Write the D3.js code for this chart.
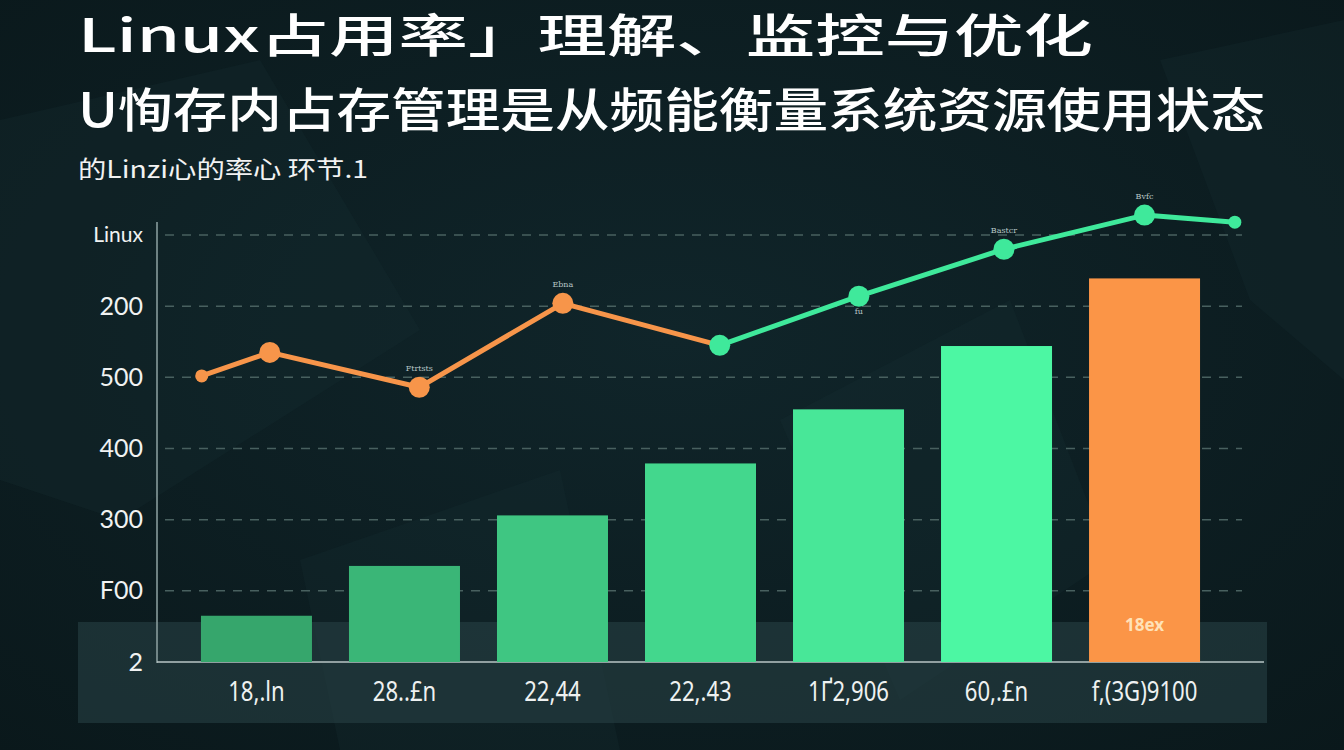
<!DOCTYPE html>
<html><head><meta charset="utf-8">
<script src="https://cdn.jsdelivr.net/npm/d3@7"></script>
<style>html,body{margin:0;padding:0;background:#0c1c1f;overflow:hidden}</style>
</head><body>
<svg id="chart" width="1344" height="750"></svg>
<script>
// ---- data ----
const categories = ["18,.ln", "28..£n", "22,44", "22,.43", "1Ґ2,906", "60,.£n", "f,(3G)9100"];
const barValues = [65, 135, 206, 279, 355, 444, 539];
const barHighlight = [false, false, false, false, false, false, true];
const barLabels = ["", "", "", "", "", "", "18ex"];
const yTickValues = [0, 100, 200, 300, 400, 500, 600];
const yTickLabels = ["2", "F00", "300", "400", "500", "200", "Linux"];
const linePos = [-0.37, 0.09, 1.1, 2.07, 3.13, 4.07, 5.05, 6.0, 6.61];
const lineValues = [402, 435, 386, 504, 445, 514, 580, 628, 618];
const lineSeries = ["o", "o", "o", "o", "g", "g", "g", "g", "g"];
const pointLabels = ["", "", "Ftrtsts", "Ebna", "", "fu", "Bastcr", "Bvfc", ""];
const titleText = "Linux占用率」理解、监控与优化";
const subtitleText = "U恂存内占存管理是从频能衡量系统资源使用状态";
const noteText = "的Linzi心的率心   环节.1";

// ---- drawing ----
const svg = d3.select("#chart");
const W = 1344, H = 750;
const defs = svg.append("defs");
const bg = defs.append("radialGradient").attr("id","bg").attr("cx","50%").attr("cy","45%").attr("r","75%");
bg.append("stop").attr("offset","0%").attr("stop-color","#10252a");
bg.append("stop").attr("offset","100%").attr("stop-color","#0a181b");
svg.append("rect").attr("width",W).attr("height",H).attr("fill","url(#bg)");
// faint background shapes
const shapes = [
  [[0,120],[260,60],[420,330],[120,520],[0,480]],
  [[780,420],[1010,300],[1110,560],[900,700]],
  [[1160,60],[1344,20],[1344,380],[1250,300]],
  [[300,560],[560,470],[620,750],[340,750]]
];
svg.selectAll("polygon.bgs").data(shapes).join("polygon").attr("class","bgs")
  .attr("points", d => d.map(p => p.join(",")).join(" "))
  .attr("fill","#173033").attr("opacity",0.25);

const x0 = 157, x1 = 1244, yTop = 235, yBase = 662;
const x = d3.scaleBand().domain(categories).range([x0, x1]).paddingInner(0.25).paddingOuter(0.297);
const y = d3.scaleLinear().domain([0, 600]).range([yBase, yTop]);
const xc = d3.scaleLinear().domain([0, 6])
  .range([x(categories[0]) + x.bandwidth()/2, x(categories[6]) + x.bandwidth()/2]);

// label strip
svg.append("rect").attr("x",78).attr("y",622).attr("width",1189).attr("height",101)
  .attr("fill","#2a4447").attr("opacity",0.55);

// gridlines
svg.append("g").selectAll("line").data(yTickValues.slice(1)).join("line")
  .attr("x1", x0 + 8).attr("x2", 1242)
  .attr("y1", d => y(d)).attr("y2", d => y(d))
  .attr("stroke","#48605f").attr("stroke-width",1.5).attr("stroke-dasharray","9,8");

// y axis
const yAxis = d3.axisLeft(y).tickValues(yTickValues).tickFormat((d,i) => yTickLabels[i]).tickSize(0).tickPadding(14);
const ga = svg.append("g").attr("transform",`translate(${x0},0)`).call(yAxis);
ga.select(".domain").remove();
ga.selectAll("text").attr("fill","#f0f2f2").attr("font-family","Lato, Noto Sans, sans-serif")
  .attr("font-size", (d,i) => i === 6 ? 21 : 25);
svg.append("line").attr("x1",x0).attr("x2",x0).attr("y1",222).attr("y2",yBase+1)
  .attr("stroke","#8fa3a3").attr("stroke-width",1.5);
svg.append("line").attr("x1",x0).attr("x2",1264).attr("y1",yBase).attr("y2",yBase)
  .attr("stroke","#b8c6c6").attr("stroke-width",1.5);

// bars
const gcol = d3.interpolateRgb("#36a66c", "#4cf7a3");
svg.append("g").selectAll("rect").data(categories).join("rect")
  .attr("x", d => x(d)).attr("width", x.bandwidth())
  .attr("y", (d,i) => y(barValues[i])).attr("height", (d,i) => yBase - y(barValues[i]))
  .attr("fill", (d,i) => barHighlight[i] ? "#fb9547" : gcol(i/5));
svg.append("g").selectAll("text").data(categories).join("text")
  .attr("x", d => x(d) + x.bandwidth()/2).attr("y", 631)
  .attr("text-anchor","middle").attr("font-family","Noto Sans, sans-serif")
  .attr("font-size",17).attr("font-weight","bold").attr("fill","#ffe2b8")
  .text((d,i) => barLabels[i]);

// x labels
svg.append("g").selectAll("text").data(categories).join("text")
  .attr("transform", d => `translate(${x(d) + x.bandwidth()/2},701) scale(0.82,1)`)
  .attr("text-anchor","middle").attr("font-family","Noto Sans, sans-serif")
  .attr("font-size",27).attr("fill","#eef1f1").text(d => d);

// line
const colorOf = s => s === "o" ? "#f7954a" : "#3fe99b";
const segs = d3.range(lineValues.length - 1);
svg.append("g").selectAll("line").data(segs).join("line")
  .attr("x1", i => xc(linePos[i])).attr("y1", i => y(lineValues[i]))
  .attr("x2", i => xc(linePos[i+1])).attr("y2", i => y(lineValues[i+1]))
  .attr("stroke", i => colorOf(lineSeries[i])).attr("stroke-width",5).attr("stroke-linecap","round");
svg.append("g").selectAll("circle").data(lineValues).join("circle")
  .attr("cx", (d,i) => xc(linePos[i])).attr("cy", d => y(d))
  .attr("r", (d,i) => (i === 0 || i === lineValues.length-1) ? 6.5 : 10.5)
  .attr("fill", (d,i) => colorOf(lineSeries[i]));
svg.append("g").selectAll("text").data(lineValues).join("text")
  .attr("x", (d,i) => xc(linePos[i]))
  .attr("y", (d,i) => i === 5 ? y(d) + 18 : y(d) - 16)
  .attr("text-anchor","middle").attr("font-family","DejaVu Serif, serif")
  .attr("font-size",8).attr("fill","#b9c7c7").text((d,i) => pointLabels[i]);

// titles
const cjk = "Noto Sans CJK SC, sans-serif";
svg.append("text").attr("x",78).attr("y",52).attr("font-family",cjk).attr("font-size",46)
  .attr("font-weight","500").attr("fill","#ffffff")
  .attr("textLength",1015).attr("lengthAdjust","spacingAndGlyphs").text(titleText);
svg.append("text").attr("x",78).attr("y",127).attr("font-family",cjk).attr("font-size",47)
  .attr("font-weight","500").attr("fill","#ffffff")
  .attr("textLength",1187).attr("lengthAdjust","spacingAndGlyphs").text(subtitleText);
svg.append("text").attr("x",78).attr("y",178).attr("font-family",cjk).attr("font-size",24)
  .attr("fill","#f2f2f2").attr("textLength",290).attr("lengthAdjust","spacingAndGlyphs").text(noteText);
</script>
</body></html>
